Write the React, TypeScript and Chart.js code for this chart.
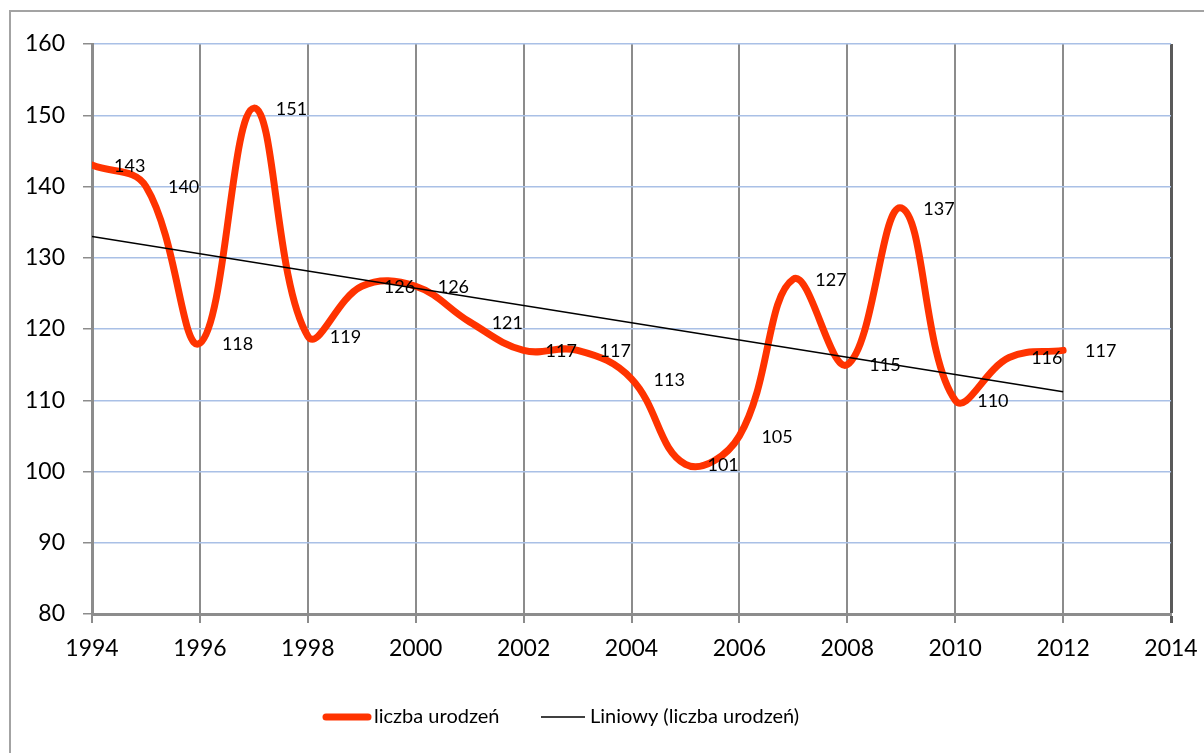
import React, { useEffect, useRef } from 'react';
import { Chart, registerables } from 'chart.js';

Chart.register(...registerables);

const years = [1994, 1995, 1996, 1997, 1998, 1999, 2000, 2001, 2002, 2003, 2004, 2005, 2006, 2007, 2008, 2009, 2010, 2011, 2012];
const births = [143, 140, 118, 151, 119, 126, 126, 121, 117, 117, 113, 101, 105, 127, 115, 137, 110, 116, 117];
const trendYears = [1994, 2012];
const trendValues = [133.0, 111.2];
const xTicks = [1994, 1996, 1998, 2000, 2002, 2004, 2006, 2008, 2010, 2012, 2014];
const yTicks = [80, 90, 100, 110, 120, 130, 140, 150, 160];
const seriesLabel = 'liczba urodzeń';
const trendLabel = 'Liniowy (liczba urodzeń)';

const FONT = 'Lato, "Open Sans", "DejaVu Sans", sans-serif';
const ORANGE = '#ff3300';

const dataLabelPlugin = {
  id: 'dataLabels',
  afterDatasetsDraw(chart: any) {
    const ctx = chart.ctx;
    const meta = chart.getDatasetMeta(1);
    ctx.save();
    ctx.font = `18px ${FONT}`;
    ctx.fillStyle = '#000';
    ctx.textAlign = 'left';
    ctx.textBaseline = 'middle';
    meta.data.forEach((pt: any, i: number) => {
      ctx.fillText(String(births[i]), pt.x + 22, pt.y + 1);
    });
    ctx.restore();
  },
};

const legendPlugin = {
  id: 'customLegend',
  afterDraw(chart: any) {
    const ctx = chart.ctx;
    const y = 717;
    ctx.save();
    ctx.font = `20px ${FONT}`;
    ctx.fillStyle = '#000';
    ctx.textAlign = 'left';
    ctx.textBaseline = 'middle';
    ctx.strokeStyle = ORANGE;
    ctx.lineWidth = 7;
    ctx.lineCap = 'round';
    ctx.beginPath();
    ctx.moveTo(326, y);
    ctx.lineTo(368, y);
    ctx.stroke();
    ctx.fillText(seriesLabel, 374, y);
    ctx.strokeStyle = '#000';
    ctx.lineWidth = 1.5;
    ctx.lineCap = 'butt';
    ctx.beginPath();
    ctx.moveTo(541, y);
    ctx.lineTo(585, y);
    ctx.stroke();
    ctx.fillText(trendLabel, 590, y);
    ctx.restore();
  },
};

export default function App() {
  const ref = useRef<HTMLCanvasElement | null>(null);

  useEffect(() => {
    document.body.style.overflow = 'hidden';
    document.documentElement.style.overflow = 'hidden';
    const canvas = ref.current!;
    const chart = new Chart(canvas, {
      type: 'line',
      data: {
        datasets: [
          {
            label: trendLabel,
            data: trendYears.map((x, i) => ({ x, y: trendValues[i] })),
            borderColor: '#000',
            borderWidth: 1.5,
            pointRadius: 0,
            tension: 0,
            order: 0,
          },
          {
            label: seriesLabel,
            data: years.map((x, i) => ({ x, y: births[i] })),
            borderColor: ORANGE,
            borderWidth: 7,
            pointRadius: 0,
            tension: 0.4,
            borderCapStyle: 'round',
            borderJoinStyle: 'round',
            order: 1,
          },
        ],
      },
      options: {
        animation: false,
        responsive: false,
        devicePixelRatio: 1,
        layout: { padding: { left: 0, top: 44, right: 33, bottom: 0 } },
        plugins: { legend: { display: false }, tooltip: { enabled: false } },
        scales: {
          x: {
            type: 'linear',
            min: 1994,
            max: 2014,
            afterBuildTicks: (scale: any) => {
              scale.ticks = xTicks.map((v) => ({ value: v }));
            },
            afterFit: (scale: any) => {
              scale.height = 139;
              scale.paddingLeft = 0;
              scale.paddingRight = 0;
            },
            ticks: {
              autoSkip: false,
              maxRotation: 0,
              padding: 12,
              color: '#000',
              font: { family: FONT, size: 23 },
              callback: (v: any) => String(v),
            },
            grid: {
              color: (c: any) => (c.tick && c.tick.value === 2014 ? '#5a5a5a' : '#8c8c8c'),
              lineWidth: (c: any) => (c.tick && c.tick.value === 2014 ? 3 : 2),
              tickLength: 9,
            },
            border: { display: true, color: '#8c8c8c', width: 3 },
          },
          y: {
            type: 'linear',
            min: 80,
            max: 160,
            afterBuildTicks: (scale: any) => {
              scale.ticks = yTicks.map((v) => ({ value: v }));
            },
            afterFit: (scale: any) => {
              scale.width = 92;
            },
            ticks: {
              padding: 18,
              color: '#000',
              font: { family: FONT, size: 23 },
              callback: (v: any) => String(v),
            },
            grid: {
              color: '#a9c0e6',
              lineWidth: 1.5,
              tickColor: '#8c8c8c',
              tickLength: 9,
            },
            border: { display: true, color: '#8c8c8c', width: 3 },
          },
        },
      },
      plugins: [dataLabelPlugin, legendPlugin],
    } as any);
    return () => chart.destroy();
  }, []);

  return (
    <div style={{ position: 'relative' }}>
      <div
        style={{
          position: 'fixed',
          left: 9,
          top: 10,
          width: 1300,
          height: 900,
          border: '2px solid #a3a3a3',
          boxSizing: 'border-box',
          background: '#fff',
        }}
      />
      <canvas
        ref={ref}
        width={1204}
        height={753}
        style={{ position: 'fixed', left: 0, top: 0, width: 1204, height: 753 }}
      />
    </div>
  );
}
